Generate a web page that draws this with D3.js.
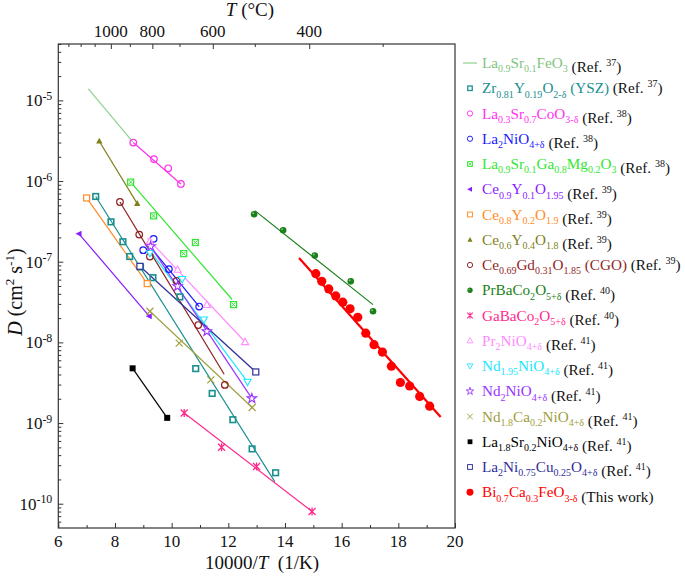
<!DOCTYPE html>
<html><head><meta charset="utf-8">
<script src="https://cdn.jsdelivr.net/npm/d3@7"></script>
</head><body style="margin:0">
<svg id="c" width="685" height="580"></svg>
<script>
// ---------- data ----------
const xTicks = [6, 8, 10, 12, 14, 16, 18, 20];
const xMinor = [7, 9, 11, 13, 15, 17, 19];
const tTicks = [1000, 800, 600, 400];
const tMinor = [1300, 1200, 1100, 900, 700, 500, 300];
const yDecades = [-10, -9, -8, -7, -6, -5];

const lsfX = [], lsfY = [], lsfFit = [7.06, 1.39e-5, 8.63, 3.06e-6];
const yszX = [7.32, 7.86, 8.28, 8.52, 8.90, 9.34, 10.29, 10.85, 11.43, 12.16, 12.84, 13.67];
const yszY = [6.44e-7, 3.12e-7, 1.77e-7, 1.16e-7, 8.6e-8, 6.34e-8, 3.66e-8, 4.73e-9, 2.33e-9, 1.10e-9, 4.78e-10, 2.42e-10];
const yszFit = [7.32, 6.44e-7, 13.64, 1.88e-10];
const lscX = [8.645, 9.375, 9.879, 10.327], lscY = [3.0e-6, 1.87e-6, 1.44e-6, 9.2e-7];
const lscFit = [8.645, 3.0e-6, 10.327, 9.2e-7];
const lnoX = [9.364, 8.997, 9.903, 10.972], lnoY = [1.92e-7, 1.39e-7, 8.1e-8, 2.78e-8];
const lnoFit = [9.20, 1.6e-7, 10.972, 2.78e-8];
const lsgmX = [8.553, 9.364, 10.838, 10.425, 12.185], lsgmY = [9.7e-7, 3.7e-7, 1.73e-7, 1.26e-7, 2.94e-8];
const lsgmFit = [8.553, 9.7e-7, 12.135, 3.4e-8];
const cy1X = [6.73, 9.209], cy1Y = [2.22e-7, 2.11e-8], cy1Fit = [6.73, 2.22e-7, 9.209, 2.11e-8];
const cy2X = [7.0, 9.138], cy2Y = [6.17e-7, 5.35e-8], cy2Fit = [7.0, 6.17e-7, 9.138, 5.35e-8];
const cy4X = [7.446, 8.786], cy4Y = [3.12e-6, 5.25e-7], cy4Fit = [7.446, 3.12e-6, 8.786, 5.25e-7];
const cgoX = [8.176, 8.856, 9.233, 10.175, 10.937, 11.878], cgoY = [5.5e-7, 2.17e-7, 1.16e-7, 5.8e-8, 1.64e-8, 2.97e-9];
const cgoFit = [8.176, 5.5e-7, 11.853, 4.03e-9];
const pbcX = [12.911, 13.934, 15.051, 16.321, 17.107], pbcY = [3.88e-7, 2.46e-7, 1.19e-7, 5.71e-8, 2.43e-8];
const pbcFit = [12.936, 4.3e-7, 17.107, 2.94e-8];
const gbcX = [10.443, 11.762, 12.996, 14.956], gbcY = [1.33e-9, 5.0e-10, 2.89e-10, 8.0e-11];
const gbcFit = [10.443, 1.33e-9, 14.956, 8.0e-11];
const pnoX = [9.233, 10.21, 11.243, 12.594], pnoY = [1.79e-7, 7.96e-8, 2.92e-8, 1.01e-8];
const pnoFit = [9.15, 1.95e-7, 12.594, 1.01e-8];
const n195X = [9.233, 10.372, 11.137, 12.678], n195Y = [1.28e-7, 6.1e-8, 1.92e-8, 3.24e-9];
const n195Fit = [9.15, 1.5e-7, 12.678, 3.24e-9];
const nnoX = [9.258, 10.21, 11.243, 12.83], nnoY = [1.55e-7, 4.96e-8, 1.37e-8, 2.02e-9];
const nnoFit = [9.258, 1.55e-7, 12.83, 2.02e-9];
const ncnX = [9.233, 10.267, 11.384, 12.841], ncnY = [2.43e-8, 9.8e-9, 3.43e-9, 1.56e-9];
const ncnFit = [9.233, 2.43e-8, 12.841, 1.56e-9];
const lsnX = [8.623, 9.843], lsnY = [4.77e-9, 1.16e-9], lsnFit = [8.623, 4.77e-9, 9.843, 1.16e-9];
const lncX = [8.88, 12.97], lncY = [8.77e-8, 4.3e-9], lncFit = [8.88, 8.77e-8, 12.97, 4.3e-9];
const bcfX = [15.087, 15.298, 15.545, 15.792, 16.039, 16.296, 16.568, 16.85, 17.142, 17.438, 17.756, 18.073, 18.401, 18.754, 19.106];
const bcfY = [7.11e-8, 5.71e-8, 4.60e-8, 3.77e-8, 3.15e-8, 2.61e-8, 2.05e-8, 1.30e-8, 9.37e-9, 7.59e-9, 5.06e-9, 3.18e-9, 2.88e-9, 2.14e-9, 1.62e-9];
const bcfFit = [14.498, 1.11e-7, 19.494, 1.19e-9];

const names = [
  "La_{0.9}Sr_{0.1}FeO_{3}", "Zr_{0.81}Y_{0.19}O_{2-δ} (YSZ)", "La_{0.3}Sr_{0.7}CoO_{3-δ}", "La_{2}NiO_{4+δ}",
  "La_{0.9}Sr_{0.1}Ga_{0.8}Mg_{0.2}O_{3}", "Ce_{0.9}Y_{0.1}O_{1.95}", "Ce_{0.8}Y_{0.2}O_{1.9}", "Ce_{0.6}Y_{0.4}O_{1.8}",
  "Ce_{0.69}Gd_{0.31}O_{1.85} (CGO)", "PrBaCo_{2}O_{5+δ}", "GaBaCo_{2}O_{5+δ}", "Pr_{2}NiO_{4+δ}", "Nd_{1.95}NiO_{4+δ}",
  "Nd_{2}NiO_{4+δ}", "Nd_{1.8}Ca_{0.2}NiO_{4+δ}", "La_{1.8}Sr_{0.2}NiO_{4+δ}", "La_{2}Ni_{0.75}Cu_{0.25}O_{4+δ}", "Bi_{0.7}Ca_{0.3}FeO_{3-δ}"];
const refs = [" (Ref. ^{37})", " (Ref. ^{37})", " (Ref. ^{38})", " (Ref. ^{38})", " (Ref. ^{38})", " (Ref. ^{39})", " (Ref. ^{39})", " (Ref. ^{39})",
  " (Ref. ^{39})", " (Ref. ^{40})", " (Ref. ^{40})", " (Ref. ^{41})", " (Ref. ^{41})", " (Ref. ^{41})", " (Ref. ^{41})", " (Ref. ^{41})", " (Ref. ^{41})", " (This work)"];

// ---------- styles ----------
const colors = ["#8fcf8f", "#1a8f8f", "#ff33ee", "#1a1aff", "#33e633", "#8a1aff", "#ff8c26", "#80801a", "#8f1f1f",
  "#1a801a", "#ff2a8c", "#ff8cff", "#1ae6ff", "#9933ff", "#a0a040", "#000000", "#2e2e99", "#ff0000"];
const markers = ["none", "sqdot", "circle", "circle", "sqx", "triL", "square", "triF", "circle", "ball", "aster",
  "triU", "triD", "star", "cross", "sqfill", "square", "bigdot"];
const lineW = [1.2, 1.2, 1.2, 1.2, 1.2, 1.2, 1.2, 1.2, 1.2, 1.2, 1.2, 1.2, 1.2, 1.2, 1.2, 1.2, 1.2, 2.2];

const seriesX = [lsfX, yszX, lscX, lnoX, lsgmX, cy1X, cy2X, cy4X, cgoX, pbcX, gbcX, pnoX, n195X, nnoX, ncnX, lsnX, lncX, bcfX];
const seriesY = [lsfY, yszY, lscY, lnoY, lsgmY, cy1Y, cy2Y, cy4Y, cgoY, pbcY, gbcY, pnoY, n195Y, nnoY, ncnY, lsnY, lncY, bcfY];
const fits = [lsfFit, yszFit, lscFit, lnoFit, lsgmFit, cy1Fit, cy2Fit, cy4Fit, cgoFit, pbcFit, gbcFit, pnoFit, n195Fit, nnoFit, ncnFit, lsnFit, lncFit, bcfFit];

// ---------- drawing ----------
const svg = d3.select("#c");
const L = 58.3, R = 455, T = 44, B = 528;
const x = d3.scaleLinear().domain([6, 20]).range([L, R]);
const y = d3.scaleLog().domain([5e-11, 5e-5]).range([B, T]);
const FAM = "Liberation Serif";

function mkText(parent) {
  return parent.append("text").attr("font-family", FAM).style("font-family", "'" + FAM + "'");
}
function rich(textSel, str, size, fill, subScale) {
  const sc = subScale || 0.7;
  const parts = str.split(/(_\{[^}]*\}|\^\{[^}]*\})/).filter(s => s.length);
  let shift = 0;
  parts.forEach(p => {
    let target = 0, txt = p, fs = size;
    if (p.startsWith("_{")) { target = 0.28 * size; txt = p.slice(2, -1); fs = size * sc; }
    else if (p.startsWith("^{")) { target = -0.38 * size; txt = p.slice(2, -1); fs = size * sc; }
    const ts = textSel.append("tspan").attr("dy", target - shift).attr("font-size", fs)
      .style("font-family", "'" + FAM + "'").text(txt.replace(/ /g, "\u00a0"));
    if (fill) ts.attr("fill", fill);
    shift = target;
  });
  return shift;
}

const plot = svg.append("g");
fits.forEach((f, i) => {
  plot.append("line").attr("x1", x(f[0])).attr("y1", y(f[1])).attr("x2", x(f[2])).attr("y2", y(f[3]))
    .attr("stroke", colors[i]).attr("stroke-width", lineW[i]);
});

function drawMarker(g, type, c, cx, cy, s) {
  s = s || 1;
  const gg = g.append("g").attr("transform", `translate(${cx},${cy}) scale(${s})`);
  switch (type) {
    case "sqdot":
      gg.append("rect").attr("x", -2.8).attr("y", -2.8).attr("width", 5.6).attr("height", 5.6).attr("fill", "none").attr("stroke", c).attr("stroke-width", 1.6); break;
    case "square":
      gg.append("rect").attr("x", -3).attr("y", -3).attr("width", 6).attr("height", 6).attr("fill", "#fff").attr("stroke", c).attr("stroke-width", 1.2); break;
    case "sqfill":
      gg.append("rect").attr("x", -3).attr("y", -3).attr("width", 6).attr("height", 6).attr("fill", c); break;
    case "sqx":
      gg.append("rect").attr("x", -3).attr("y", -3).attr("width", 6).attr("height", 6).attr("fill", "#fff").attr("stroke", c).attr("stroke-width", 1.2);
      gg.append("path").attr("d", "M-2,-2L2,2M-2,2L2,-2").attr("stroke", c).attr("stroke-width", 1); break;
    case "circle":
      gg.append("circle").attr("r", 3.3).attr("fill", "none").attr("stroke", c).attr("stroke-width", 1.2); break;
    case "ball":
      gg.append("circle").attr("r", 3.3).attr("fill", c);
      gg.append("circle").attr("cx", -1).attr("cy", -1).attr("r", 1).attr("fill", "#7fbf7f"); break;
    case "bigdot":
      gg.append("circle").attr("r", 4.6).attr("fill", c); break;
    case "triF":
      gg.append("path").attr("d", "M0,-3.5L3.2,2.4L-3.2,2.4Z").attr("fill", c); break;
    case "triU":
      gg.append("path").attr("d", "M0,-3.8L3.6,2.6L-3.6,2.6Z").attr("fill", "#fff").attr("stroke", c).attr("stroke-width", 1.1); break;
    case "triD":
      gg.append("path").attr("d", "M0,3.8L3.6,-2.6L-3.6,-2.6Z").attr("fill", "#fff").attr("stroke", c).attr("stroke-width", 1.1); break;
    case "triL":
      gg.append("path").attr("d", "M-3.5,0L2.5,-3L2.5,3Z").attr("fill", c); break;
    case "star":
      gg.append("path").attr("d", d3.symbol(d3.symbolStar, 28)()).attr("fill", "#fff").attr("stroke", c).attr("stroke-width", 1.1); break;
    case "cross":
      gg.append("path").attr("d", "M-3.5,-3.5L3.5,3.5M-3.5,3.5L3.5,-3.5").attr("stroke", c).attr("stroke-width", 1.2); break;
    case "aster":
      gg.append("path").attr("d", "M-3.5,-3.5L3.5,3.5M-3.5,3.5L3.5,-3.5M0,-4L0,4").attr("stroke", c).attr("stroke-width", 1.3); break;
  }
}

seriesX.forEach((xs, i) => {
  xs.forEach((xv, j) => drawMarker(plot, markers[i], colors[i], x(xv), y(seriesY[i][j])));
});

// frame
svg.append("rect").attr("x", L).attr("y", T).attr("width", R - L).attr("height", B - T)
  .attr("fill", "none").attr("stroke", "#333").attr("stroke-width", 1.2);

// axes (tick marks from d3 axes, labels as own text)
svg.append("g").attr("transform", `translate(0,${B})`)
  .call(d3.axisBottom(x).tickValues(xTicks).tickSize(-5).tickFormat(""));
svg.append("g").attr("transform", `translate(0,${B})`)
  .call(d3.axisBottom(x).tickValues(xMinor).tickSize(-3).tickFormat(""));
const tPos = tTicks.map(t => 10000 / (t + 273.15));
svg.append("g").attr("transform", `translate(0,${T})`)
  .call(d3.axisTop(x).tickValues(tPos).tickSize(-5).tickFormat(""));
svg.append("g").attr("transform", `translate(0,${T})`)
  .call(d3.axisTop(x).tickValues(tMinor.map(t => 10000 / (t + 273.15)).filter(v => v >= 6)).tickSize(-3).tickFormat(""));
const majors = yDecades.map(e => Math.pow(10, e));
const minors = [];
for (let e = -11; e <= -5; e++) for (let k = 2; k <= 9; k++) { const v = k * Math.pow(10, e); if (v >= 5e-11 && v <= 5e-5) minors.push(v); }
svg.append("g").attr("transform", `translate(${L},0)`).call(d3.axisLeft(y).tickValues(majors).tickSize(-5).tickFormat(""));
svg.append("g").attr("transform", `translate(${L},0)`).call(d3.axisLeft(y).tickValues(minors).tickSize(-3).tickFormat(""));
svg.selectAll(".domain").remove();
svg.selectAll(".tick line").attr("stroke", "#333");
svg.selectAll(".tick text").remove();

xTicks.forEach(v => {
  mkText(svg).attr("x", x(v)).attr("y", B + 19).attr("text-anchor", "middle").attr("font-size", 17).attr("fill", "#111").text(v);
});
tTicks.forEach((v, i) => {
  mkText(svg).attr("x", x(tPos[i])).attr("y", T - 7).attr("text-anchor", "middle").attr("font-size", 17).attr("fill", "#111").text(v);
});
yDecades.forEach(e => {
  const t = mkText(svg).attr("x", L - 6).attr("y", y(Math.pow(10, e)) + 6).attr("text-anchor", "end")
    .attr("font-size", 17).attr("fill", "#111");
  rich(t, "10^{" + e + "}", 17);
});

const xt = mkText(svg).attr("x", 262).attr("y", 569).attr("text-anchor", "middle").attr("font-size", 19).attr("fill", "#111");
xt.append("tspan").text("10000/");
xt.append("tspan").attr("font-style", "italic").text("T");
xt.append("tspan").text("\u00a0\u00a0(1/K)");

const tt = mkText(svg).attr("x", 250).attr("y", 16).attr("text-anchor", "middle").attr("font-size", 19).attr("fill", "#111");
tt.append("tspan").attr("font-style", "italic").text("T");
tt.append("tspan").text("\u00a0(°C)");

const yt = mkText(svg).attr("transform", "translate(22,292) rotate(-90)").attr("text-anchor", "middle").attr("font-size", 20).attr("fill", "#111");
yt.append("tspan").attr("font-style", "italic").text("D");
const sh = rich(yt, " (cm^{2} s^{-1}", 20, null, 0.66);
yt.append("tspan").attr("dy", -sh).text(")");

const lg = svg.append("g");
names.forEach((nm, i) => {
  const cy = 63 + i * 25.25;
  if (markers[i] === "none") {
    lg.append("line").attr("x1", 463).attr("x2", 477).attr("y1", cy).attr("y2", cy).attr("stroke", colors[i]).attr("stroke-width", 1.2);
  } else {
    drawMarker(lg, markers[i], colors[i], 470, cy, markers[i] === "bigdot" ? 0.75 : 0.8);
  }
  const t = mkText(lg).attr("x", 482).attr("y", cy + 5).attr("font-size", 15.2);
  const s1 = rich(t, nm, 15.2, colors[i] === "#8fcf8f" ? "#7fc47f" : colors[i], 0.66);
  t.append("tspan").attr("dy", -s1).attr("font-size", 15.2).text("");
  rich(t, refs[i], 15.2, "#111", 0.66);
});
</script></body></html>
